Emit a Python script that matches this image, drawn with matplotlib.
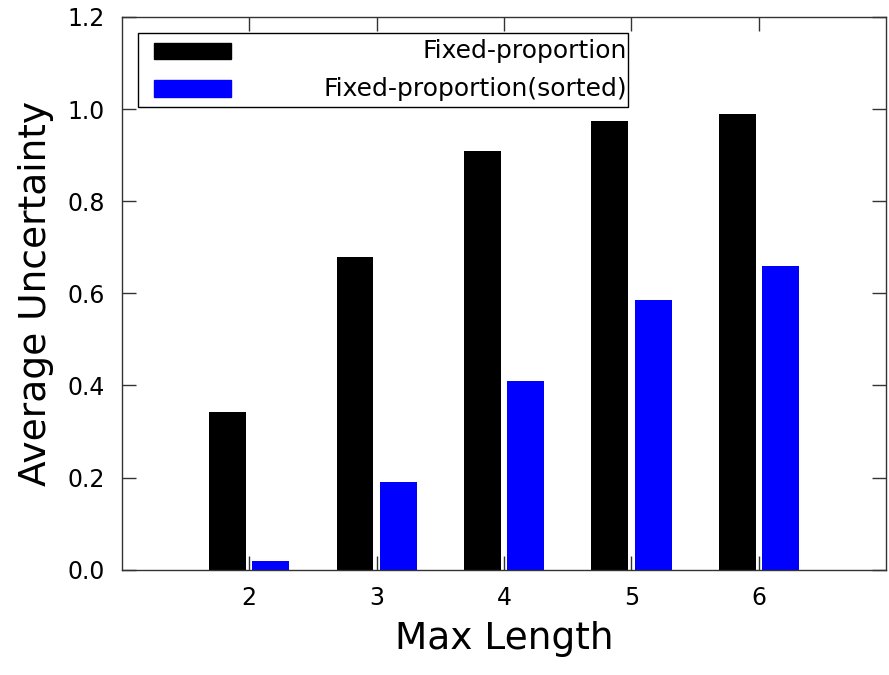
import matplotlib.pyplot as plt
import numpy as np
from matplotlib.patches import Rectangle

# data
max_lengths = [2, 3, 4, 5, 6]
fixed_proportion = [0.343, 0.678, 0.909, 0.974, 0.989]
fixed_proportion_sorted = [0.019, 0.190, 0.410, 0.586, 0.659]
series_names = ["Fixed-proportion", "Fixed-proportion(sorted)"]
series_colors = ["black", "#0000ff"]


def plot_uncertainty():
    fig = plt.figure(figsize=(8.89, 6.75), dpi=100)
    ax = fig.add_axes([0.137, 0.156, 0.860, 0.819])

    x = np.array(max_lengths)
    width = 0.29
    offset = 0.17
    ax.bar(x - offset, fixed_proportion, width, color=series_colors[0], zorder=2)
    ax.bar(x + offset, fixed_proportion_sorted, width, color=series_colors[1], zorder=2)

    ax.set_xlim(1, 7)
    ax.set_ylim(0, 1.2)
    ax.set_xticks(max_lengths)
    ax.set_yticks(np.arange(0, 1.21, 0.2))
    ax.set_yticklabels([f"{v:.1f}" for v in np.arange(0, 1.21, 0.2)])

    # gnuplot style ticks: inside and mirrored
    ax.tick_params(direction="in", length=10, width=1, top=True, right=True,
                   labelsize=17, pad=12, colors="#333333", labelcolor="black")
    for s in ax.spines.values():
        s.set_linewidth(1.0)
        s.set_color("#333333")

    ax.set_xlabel("Max Length", fontsize=27, labelpad=8)
    ax.set_ylabel("Average Uncertainty", fontsize=27, labelpad=10)

    # legend box drawn by hand (text right-aligned, sample on the left)
    ax.add_patch(Rectangle((0.021, 0.837), 0.641, 0.134, transform=ax.transAxes,
                           fill=False, edgecolor="black", linewidth=1, zorder=5))
    rows_y = [0.938, 0.870]
    for name, color, yy in zip(series_names, series_colors, rows_y):
        ax.add_patch(Rectangle((0.042, yy - 0.015), 0.101, 0.030, transform=ax.transAxes,
                               color=color, zorder=6))
        ax.text(0.661, yy, name, transform=ax.transAxes, ha="right", va="center",
                fontsize=18, zorder=6)

    fig.savefig("out.png", dpi=100)


def main():
    plot_uncertainty()


if __name__ == "__main__":
    main()
